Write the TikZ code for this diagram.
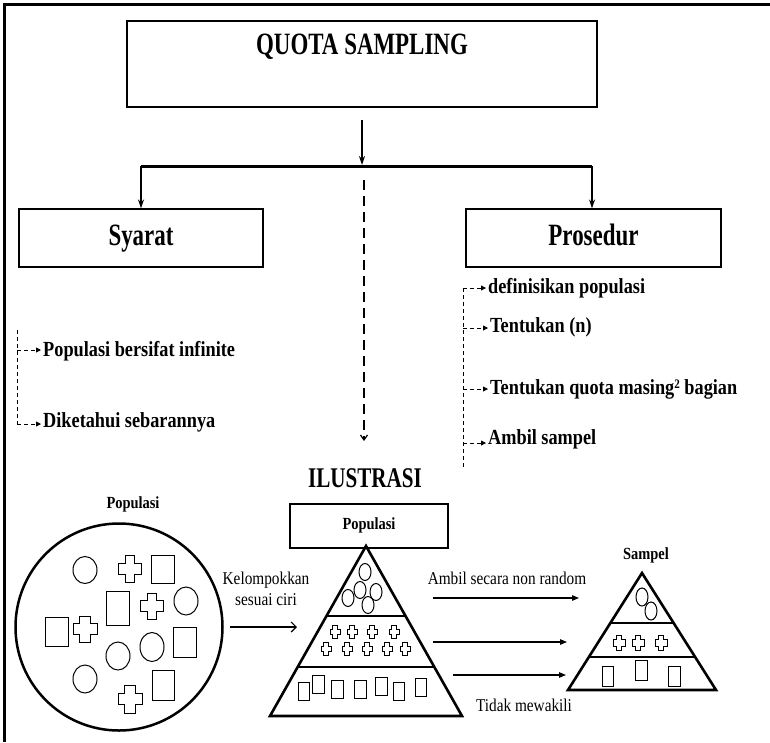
\documentclass[tikz,border=0pt]{standalone}
\usepackage{fontspec}
\setmainfont{Liberation Serif}[FakeStretch=0.85]
\newfontfamily\headfont{Liberation Serif}[FakeStretch=0.74]
\usetikzlibrary{arrows.meta,calc}

% outlined plus sign, centre (#1,#2), width #3, height #4
\newcommand\plusmark[4]{\draw[figline,shift={(#1,#2)},xscale=#3,yscale=#4]
  (-0.21,-0.5) -- (0.21,-0.5) -- (0.21,-0.21) -- (0.5,-0.21) -- (0.5,0.21) --
  (0.21,0.21) -- (0.21,0.5) -- (-0.21,0.5) -- (-0.21,0.21) -- (-0.5,0.21) --
  (-0.5,-0.21) -- (-0.21,-0.21) -- cycle;}
% rectangle, centre (#1,#2), width #3, height #4
\newcommand\boxmark[4]{\draw[figline,shift={(#1,#2)}] (-#3/2,-#4/2) rectangle (#3/2,#4/2);}
% ellipse, centre (#1,#2), radii #3 and #4
\newcommand\ovalmark[4]{\draw[figline] (#1,#2) ellipse [x radius=#3,y radius=#4];}

\begin{document}
\begin{tikzpicture}[x=1pt,y=-1pt,
  thinbox/.style={draw,line width=1.2pt,inner sep=0pt},
  thickbox/.style={draw,line width=2.6pt,inner sep=0pt},
  hdtext/.style={font=\headfont\bfseries\fontsize{31}{34}\selectfont,inner sep=0pt},
  ilustext/.style={font=\headfont\bfseries\fontsize{28.5}{31}\selectfont,inner sep=0pt},
  itemtext/.style={font=\bfseries\fontsize{21.5}{24}\selectfont,inner sep=0pt,anchor=base west},
  notetext/.style={font=\fontsize{18}{21}\selectfont,inner sep=0pt},
  lbltext/.style={font=\bfseries\fontsize{17}{19}\selectfont,inner sep=0pt},
  leader/.style={dash pattern=on 4pt off 3pt,line width=0.9pt},
  leadtip/.style={-{Triangle[length=5pt,width=5pt]},shorten >=2pt},
  figline/.style={line width=1pt},
  tier/.style={line width=2.6pt},
  mainarrow/.style={-{Stealth[length=9pt,width=6pt]}},
  flowarrow/.style={line width=1.2pt,-{Triangle[length=7pt,width=5.5pt]}},
]
\useasboundingbox (0,0) rectangle (770,742);

% page frame (top and left rules)
\draw[line width=3pt] (4,742) -- (4,4) -- (770,4);

% ---------- heading and branches ----------
\node[thinbox,minimum width=470pt,minimum height=86pt] (quota) at (362,64) {};
\node[hdtext,anchor=base] (quotatxt) at (362,54) {QUOTA SAMPLING};

\coordinate (drop) at (362,120);
\coordinate (split) at (362,165);
\coordinate (bl) at (141,166);
\coordinate (br) at (592,166);
\draw[line width=1.5pt,mainarrow] (drop) -- (split);
\draw[line width=3pt] (bl) -- (br);

\node[thinbox,minimum width=244pt,minimum height=58pt] (syarat) at (141,238) {};
\node[hdtext,anchor=base] (syarattxt) at (141,245) {Syarat};
\node[thinbox,minimum width=255pt,minimum height=58pt] (prosedur) at (593.5,238) {};
\node[hdtext,anchor=base] (prosedurtxt) at (593.5,245) {Prosedur};

\draw[line width=2pt,mainarrow] (bl) -- (bl |- syarat.north);
\draw[line width=2pt,mainarrow] (br) -- (br |- prosedur.north);

% dashed link down to the illustration
\coordinate (mid0) at (364,180);
\coordinate (mid1) at (364,441);
\draw[line width=1.2pt,dash pattern=on 10pt off 6pt,-{Straight Barb[length=5pt,width=7pt]}] (mid0) -- (mid1);

% ---------- Syarat list ----------
\coordinate (sy0) at (17,330);
\coordinate (sy1) at (17,350);
\coordinate (sy2) at (17,424);
\draw[leader] (sy0) -- (sy2);
\node[itemtext] (s1) at (43,356) {Populasi bersifat infinite};
\node[itemtext] (s2) at (43,427) {Diketahui sebarannya};
\draw[leader,leadtip] (sy1) -- (s1.west |- sy1);
\draw[leader,leadtip] (sy2) -- (s2.west |- sy2);

% ---------- Prosedur list ----------
\coordinate (pr1) at (463,288);
\coordinate (pr2) at (463,328);
\coordinate (pr3) at (463,389);
\coordinate (pr4) at (463,443);
\coordinate (pr5) at (463,468);
\draw[leader] (pr1) -- (pr5);
\node[itemtext] (p1) at (488,293) {definisikan populasi};
\node[itemtext] (p2) at (490,332) {Tentukan (n)};
\node[itemtext] (p3) at (490,394) {Tentukan quota masing\raisebox{0.55ex}{\fontsize{13}{13}\selectfont 2} bagian};
\node[itemtext] (p4) at (488,444) {Ambil sampel};
\draw[leader,leadtip] (pr1) -- (p1.west |- pr1);
\draw[leader,leadtip] (pr2) -- (p2.west |- pr2);
\draw[leader,leadtip] (pr3) -- (p3.west |- pr3);
\draw[leader,leadtip] (pr4) -- (p4.west |- pr4);

% ---------- illustration ----------
\node[ilustext,anchor=base] (ilus) at (365,487) {ILUSTRASI};

% population as a mixed set
\node[lbltext,anchor=base] (poplabel) at (133,508) {Populasi};
\node[draw,circle,line width=2.5pt,minimum size=207pt,inner sep=0pt] (popcircle) at (119,627) {};
\ovalmark{85}{570}{12}{13.5}
\plusmark{130}{569}{23}{27}
\boxmark{163}{569}{23}{28}
\ovalmark{186}{601}{12}{14}
\boxmark{57}{632}{23}{29}
\plusmark{85}{629}{24}{26}
\boxmark{118}{608}{23}{34}
\plusmark{152}{606}{23}{26}
\ovalmark{118}{656}{12}{14}
\ovalmark{152}{647}{12}{14.5}
\boxmark{185}{642}{23}{30}
\ovalmark{85}{679}{12}{14}
\plusmark{130}{699}{24}{28}
\boxmark{163}{685}{22}{30}

% grouping arrow
\coordinate (k0) at (230,627);
\coordinate (k1) at (297,627);
\draw[line width=1.2pt,-{Straight Barb[length=5pt,width=10pt]}] (k0) -- (k1);
\node[notetext,align=center] (ktxt) at (266,589) {Kelompokkan\\sesuai ciri};

% grouped population pyramid
\node[thickbox,minimum width=158pt,minimum height=44pt] (popbox) at (369,526) {};
\node[lbltext,anchor=base] (popboxtxt) at (369,529) {Populasi};
\coordinate (pa) at (366,546);
\coordinate (pl) at (270,716);
\coordinate (pr) at (462,716);
\draw[tier] (pa) -- (pr) -- (pl) -- cycle;
\draw[tier] ($(pa)!0.4118!(pl)$) -- ($(pa)!0.4118!(pr)$);
\draw[tier] ($(pa)!0.7118!(pl)$) -- ($(pa)!0.7118!(pr)$);
\ovalmark{365}{572}{6}{8.5}
\ovalmark{360}{590}{6}{8.5}
\ovalmark{348}{598}{6}{8.5}
\ovalmark{376}{592}{6}{8.5}
\ovalmark{368}{605}{6}{8.5}
\plusmark{335}{632}{10}{13}
\plusmark{352}{632}{10}{13}
\plusmark{372}{632}{10}{13}
\plusmark{394}{632}{10}{13}
\plusmark{326}{649}{10}{13}
\plusmark{347}{649}{10}{13}
\plusmark{367}{649}{10}{13}
\plusmark{387}{649}{10}{13}
\plusmark{405}{649}{10}{13}
\boxmark{304}{691}{11.5}{18}
\boxmark{318.5}{684}{11.5}{18}
\boxmark{337.5}{689.5}{11.5}{18}
\boxmark{360.5}{689.5}{11.5}{18}
\boxmark{381.5}{686}{11.5}{18}
\boxmark{399}{691.5}{11.5}{18}
\boxmark{421}{687.5}{11.5}{18}

% sampling arrows
\coordinate (a1s) at (433,598);
\coordinate (a1e) at (579,598);
\coordinate (a2s) at (433,642);
\coordinate (a2e) at (567,642);
\coordinate (a3s) at (453,675);
\coordinate (a3e) at (566,675);
\draw[flowarrow] (a1s) -- (a1e);
\draw[flowarrow] (a2s) -- (a2e);
\draw[flowarrow] (a3s) -- (a3e);
\node[notetext,anchor=base] (nonrandom) at (507,584) {Ambil secara non random};
\node[notetext,anchor=base] (tidak) at (524,711) {Tidak mewakili};

% sample pyramid
\node[lbltext,anchor=base] (sampel) at (646,559) {Sampel};
\coordinate (sa) at (642,573);
\coordinate (sl) at (568,690);
\coordinate (sr) at (716,690);
\draw[tier] (sa) -- (sr) -- (sl) -- cycle;
\draw[tier] ($(sa)!0.4274!(sl)$) -- ($(sa)!0.4274!(sr)$);
\draw[tier] ($(sa)!0.718!(sl)$) -- ($(sa)!0.718!(sr)$);
\ovalmark{642}{597}{6}{9}
\ovalmark{651}{611}{6}{9}
\plusmark{619}{643}{12}{15}
\plusmark{638}{643}{12}{15}
\plusmark{661}{643}{12}{15}
\boxmark{607.5}{676}{11}{20}
\boxmark{641}{670}{12}{20}
\boxmark{674}{676}{12}{20}
\end{tikzpicture}
\end{document}
